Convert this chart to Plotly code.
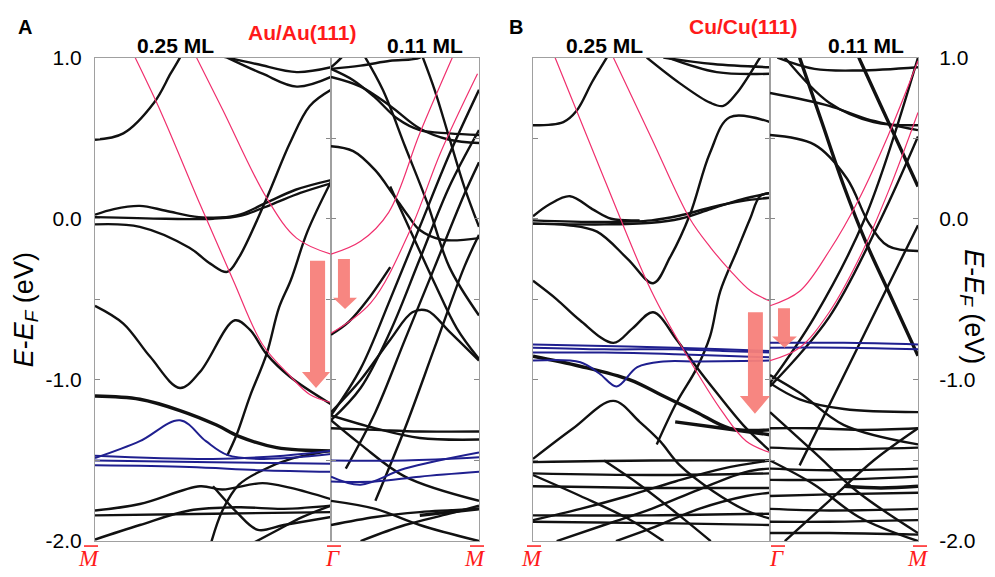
import plotly.graph_objects as go

W, H = 995, 577

# ---------------- data ----------------
# k = fractional position along each sub-panel path (left panels: M->Gamma, right panels: Gamma->M)
# E = E - E_F in eV

# ===== Panel A, Au/Au(111), 0.25 ML =====
AL_red = [
    ([0.17, 0.28, 0.445, 0.585, 0.71, 0.83, 0.91, 1.0], [1.0, 0.66, 0.09, -0.38, -0.78, -0.98, -1.09, -1.14]),
    ([0.43, 0.54, 0.727, 0.854, 1.0], [1.0, 0.68, 0.13, -0.12, -0.22]),
]
AL_black = [
    ([0, 0.12, 0.25, 0.32, 0.36, 0.40], [0.49, 0.53, 0.72, 0.9, 1.0, 1.12]),
    ([0.50, 0.685, 0.855, 1.0], [1.02, 0.96, 0.91, 0.94]),
    ([0.56, 0.71, 0.855, 1.0], [1.0, 0.9, 0.82, 0.88]),
    ([0, 0.19, 0.40, 0.49, 0.56, 0.61, 0.727, 0.826, 0.91, 1.0], [-0.035, -0.05, -0.18, -0.28, -0.33, -0.24, 0.126, 0.47, 0.7, 0.8]),
    ([0, 0.08, 0.19, 0.30, 0.44, 0.6, 0.727, 0.85, 1.0], [0.025, 0.06, 0.08, 0.05, 0.01, 0.02, 0.1, 0.18, 0.24]),
    ([0, 0.3, 0.5, 0.62, 0.75, 0.87, 1.0], [0.01, 0.0, 0.0, 0.02, 0.09, 0.16, 0.22]),
    ([0.56, 0.60, 0.657, 0.727, 0.78, 0.83, 0.9, 1.0], [-1.47, -1.34, -1.1, -0.84, -0.55, -0.38, -0.08, 0.23]),
    ([0, 0.12, 0.233, 0.36, 0.445, 0.593, 0.657, 0.727, 0.826, 1.0], [-0.54, -0.65, -0.855, -1.05, -0.95, -0.63, -0.69, -0.84, -0.98, -1.15]),
    ([0, 0.19, 0.445, 0.54, 0.71, 0.83, 1.0], [-1.81, -1.77, -1.66, -1.68, -1.64, -1.67, -1.74]),
    ([0, 0.5, 1.0], [-1.84, -1.83, -1.82]),
    ([0, 0.19, 0.40, 0.61, 0.8, 1.0], [-1.99, -1.9, -1.81, -1.79, -1.8, -1.78]),
    ([0.49, 0.54, 0.61, 0.71, 0.83, 1.0], [-2.02, -1.81, -1.65, -1.56, -1.49, -1.44]),
    ([0.5, 0.6, 0.69, 0.8, 1.0], [-1.66, -1.82, -1.93, -1.9, -1.85]),
    ([0.62, 0.75, 0.88, 1.0], [-2.05, -1.95, -1.85, -1.78]),
]
AL_thick = [
    ([0, 0.19, 0.36, 0.515, 0.61, 0.77, 1.0], [-1.1, -1.12, -1.19, -1.28, -1.35, -1.42, -1.44]),
]
AL_blue = [
    ([0, 0.19, 0.36, 0.47, 0.56, 0.7, 1.0], [-1.485, -1.38, -1.25, -1.38, -1.465, -1.49, -1.46]),
    ([0, 0.5, 0.8, 1.0], [-1.47, -1.49, -1.47, -1.44]),
    ([0, 0.5, 1.0], [-1.50, -1.51, -1.52]),
    ([0, 0.4, 0.7, 1.0], [-1.53, -1.54, -1.56, -1.57]),
]

# ===== Panel A, 0.11 ML =====
AR_red = [
    ([0, 0.2, 0.39, 0.6, 0.82], [-0.22, -0.14, 0.04, 0.53, 1.0]),
    ([0, 0.27, 0.54, 0.74, 0.99], [-0.71, -0.52, -0.06, 0.41, 0.9]),
]
AR_black = [
    ([0, 0.07, 0.15], [0.94, 1.0, 1.1]),
    ([0, 0.2, 0.4, 0.6, 0.66], [0.93, 0.95, 0.98, 1.0, 1.05]),
    ([0, 0.15, 0.3, 0.45, 0.6, 0.8, 1.0], [0.93, 0.86, 0.75, 0.62, 0.55, 0.53, 0.52]),
    ([0, 0.2, 0.4, 0.6, 0.8, 1.0], [0.88, 0.82, 0.70, 0.56, 0.49, 0.47]),
    ([0.6, 0.7, 0.8, 0.9, 1.0], [1.05, 0.8, 0.5, 0.2, -0.05]),
    ([0.2, 0.35, 0.5, 0.65, 0.8, 1.0], [1.05, 0.8, 0.45, 0.1, -0.3, -0.6]),
    ([0, 0.15, 0.3, 0.42, 0.52, 0.6, 0.75, 1.0], [0.45, 0.42, 0.3, 0.15, 0.02, -0.07, -0.13, -0.12]),
    ([0.4, 0.55, 0.7, 0.85, 1.0], [0.2, -0.1, -0.4, -0.68, -0.87]),
    ([0, 0.12, 0.25, 0.4], [-0.72, -0.64, -0.5, -0.3]),
    ([0, 0.2, 0.4, 0.55, 0.65, 0.8, 1.0], [-1.2, -1.0, -0.75, -0.58, -0.57, -0.7, -0.88]),
    ([0, 0.2, 0.4, 0.6, 0.8, 1.0], [-1.22, -0.93, -0.5, -0.05, 0.4, 0.8]),
    ([0, 0.2, 0.4, 0.6, 0.8, 1.0], [-1.25, -1.05, -0.7, -0.25, 0.2, 0.55]),
    ([0.1, 0.3, 0.5, 0.7, 0.9, 1.0], [-1.55, -1.2, -0.75, -0.3, 0.15, 0.35]),
    ([0.3, 0.5, 0.7, 0.9, 1.0], [-1.75, -1.3, -0.8, -0.3, -0.1]),
    ([0, 0.3, 0.6, 1.0], [-1.3, -1.31, -1.32, -1.32]),
    ([0, 0.3, 0.6, 1.0], [-1.22, -1.3, -1.36, -1.37]),
    ([0, 0.2, 0.5, 1.0], [-1.25, -1.4, -1.6, -1.75]),
    ([0, 0.3, 0.6, 1.0], [-1.9, -1.85, -1.82, -1.8]),
    ([0.2, 0.5, 0.8, 1.0], [-2.0, -1.9, -1.83, -1.78]),
    ([0, 0.3, 0.6, 1.0], [-1.75, -1.8, -1.9, -2.0]),
]
AR_thick = [
    ([0.6, 0.8, 1.0], [-1.84, -1.82, -1.8]),
]
AR_blue = [
    ([0, 0.5, 1.0], [-1.5, -1.5, -1.48]),
    ([0, 0.3, 0.6, 1.0], [-1.63, -1.63, -1.6, -1.57]),
    ([0, 0.2, 0.5, 1.0], [-1.6, -1.65, -1.55, -1.45]),
]

# ===== Panel B, Cu/Cu(111), 0.25 ML =====
BL_red = [
    ([0.093, 0.3, 0.5, 0.65, 0.8, 0.9, 1.0], [1.0, 0.25, -0.45, -0.85, -1.2, -1.38, -1.45]),
    ([0.339, 0.5, 0.662, 0.75, 0.831, 0.92, 1.0], [1.0, 0.5, 0.0, -0.18, -0.32, -0.45, -0.51]),
]
BL_black = [
    ([0, 0.128, 0.184, 0.25, 0.311, 0.35], [0.58, 0.6, 0.67, 0.85, 1.0, 1.1]),
    ([0.48, 0.62, 0.747, 0.803, 0.86, 0.958, 1.0], [1.0, 0.84, 0.72, 0.70, 0.78, 1.0, 1.1]),
    ([0.55, 0.76, 1.0], [1.0, 0.96, 0.94]),
    ([0.57, 0.775, 1.0], [1.0, 0.91, 0.90]),
    ([0, 0.15, 0.27, 0.4, 0.507, 0.578, 0.662, 0.747, 0.83, 1.0], [-0.03, -0.04, -0.08, -0.25, -0.40, -0.24, 0.025, 0.41, 0.63, 0.60]),
    ([0, 0.07, 0.156, 0.25, 0.33, 0.45], [0.015, 0.09, 0.14, 0.06, 0.0, -0.01]),
    ([0, 0.3, 0.5, 0.62, 0.75, 0.88, 1.0], [-0.01, -0.02, -0.01, 0.02, 0.07, 0.11, 0.13]),
    ([0, 0.3, 0.5, 0.62, 0.75, 0.88, 1.0], [-0.03, -0.035, -0.025, 0.0, 0.06, 0.12, 0.16]),
    ([0.522, 0.606, 0.69, 0.747, 0.79, 0.86, 0.916, 0.958, 1.0], [-1.40, -1.14, -0.93, -0.73, -0.45, -0.2, 0.0, 0.14, 0.16]),
    ([0, 0.1, 0.198, 0.339, 0.42, 0.507, 0.606, 0.69, 0.775, 0.887, 1.0], [-0.385, -0.5, -0.63, -0.77, -0.68, -0.58, -0.75, -0.92, -1.08, -1.28, -1.44]),
    ([0, 0.17, 0.339, 0.45, 0.536, 0.62, 0.76, 0.90, 1.0], [-1.49, -1.3, -1.13, -1.26, -1.38, -1.53, -1.69, -1.81, -1.86]),
    ([0, 0.5, 1.0], [-1.51, -1.50, -1.50]),
    ([0, 0.5, 1.0], [-1.58, -1.59, -1.58]),
    ([0, 0.5, 1.0], [-1.66, -1.67, -1.67]),
    ([0, 0.5, 1.0], [-1.84, -1.84, -1.83]),
    ([0, 0.6, 1.0], [-1.88, -1.89, -1.9]),
    ([0, 0.2, 0.4, 0.6, 0.8, 1.0], [-1.87, -1.8, -1.72, -1.63, -1.55, -1.5]),
    ([0.1, 0.3, 0.5, 0.7, 0.9, 1.0], [-2.0, -1.9, -1.8, -1.68, -1.57, -1.55]),
    ([0.35, 0.5, 0.7, 0.9, 1.0], [-2.0, -1.92, -1.8, -1.72, -1.7]),
    ([0, 0.2, 0.4, 0.55], [-1.59, -1.72, -1.86, -2.0]),
    ([0.3, 0.45, 0.6, 0.75], [-1.5, -1.65, -1.82, -2.0]),
]
BL_thick = [
    ([0, 0.198, 0.409, 0.55, 0.69, 0.83, 1.0], [-0.853, -0.915, -1.0, -1.1, -1.2, -1.30, -1.31]),
    ([0.6, 0.8, 1.0], [-1.26, -1.3, -1.34]),
]
BL_blue = [
    ([0, 0.3, 0.6, 0.8, 1.0], [-0.78, -0.79, -0.80, -0.81, -0.82]),
    ([0, 0.3, 0.6, 0.8, 1.0], [-0.80, -0.81, -0.81, -0.82, -0.83]),
    ([0, 0.3, 0.6, 0.8, 1.0], [-0.83, -0.83, -0.84, -0.85, -0.86]),
    ([0, 0.2, 0.28, 0.353, 0.44, 0.55, 0.7, 1.0], [-0.88, -0.89, -0.96, -1.04, -0.92, -0.885, -0.885, -0.88]),
]

# ===== Panel B, 0.11 ML =====
BR_red = [
    ([0, 0.2, 0.4, 0.6, 0.8, 1.0], [-0.54, -0.45, -0.2, 0.12, 0.52, 0.98]),
    ([0, 0.2, 0.4, 0.6, 0.8, 1.0], [-0.88, -0.8, -0.58, -0.25, 0.17, 0.66]),
]
BR_black = [
    ([0, 0.4, 0.65, 1.0], [0.78, 0.70, 0.62, 0.55]),
    ([0.05, 0.3, 0.6, 1.0], [1.0, 0.93, 0.92, 0.94]),
    ([0.1, 0.4, 0.7, 1.0], [1.0, 0.72, 0.60, 0.58]),
    ([0, 0.3, 0.52, 0.67, 0.8, 1.0], [0.52, 0.46, 0.25, -0.03, -0.17, -0.2]),
    ([0, 0.3, 0.64, 1.0], [-1.02, -0.61, 0.0, 1.0]),
    ([0, 0.4, 0.75, 1.0], [-1.04, -0.61, 0.0, 0.51]),
    ([0.2, 0.64, 1.0], [-1.53, -0.71, -0.04]),
    ([0, 0.2, 0.5, 1.0], [-1.02, -1.12, -1.18, -1.2]),
    ([0, 0.2, 0.5, 1.0], [-0.97, -1.08, -1.28, -1.4]),
    ([0, 0.3, 0.6, 1.0], [-1.3, -1.3, -1.31, -1.3]),
    ([0, 0.4, 1.0], [-1.42, -1.43, -1.42]),
    ([0, 0.4, 1.0], [-1.55, -1.56, -1.55]),
    ([0, 0.4, 1.0], [-1.62, -1.62, -1.6]),
    ([0, 0.4, 1.0], [-1.72, -1.71, -1.7]),
    ([0, 0.4, 1.0], [-1.8, -1.81, -1.8]),
    ([0, 0.4, 1.0], [-1.88, -1.88, -1.87]),
    ([0, 0.4, 1.0], [-1.95, -1.95, -1.96]),
    ([0, 0.3, 0.6, 1.0], [-1.2, -1.45, -1.7, -1.95]),
    ([0.1, 0.4, 0.7, 1.0], [-2.0, -1.75, -1.5, -1.3]),
    ([0, 0.3, 0.6, 1.0], [-1.5, -1.65, -1.85, -2.0]),
]
BR_thick = [
    ([0.2, 0.35, 0.5, 0.65, 0.8, 1.0], [1.0, 0.6, 0.2, -0.15, -0.45, -0.85]),
    ([0.6, 0.75, 0.9, 1.0], [1.0, 0.7, 0.4, 0.2]),
    ([0.5, 0.75, 1.0], [-1.66, -1.67, -1.66]),
]
BR_blue = [
    ([0, 0.5, 1.0], [-0.77, -0.77, -0.78]),
    ([0, 0.5, 1.0], [-0.80, -0.80, -0.81]),
]

Y_TICKS = [-2, -1, 0, 1]
Y_TICKTEXT = ['-2.0', '-1.0', '0.0', '1.0']
Y_MINOR = [-1.5, -0.5, 0.5]

# ---------------- figure ----------------
fig = go.Figure()

# screen-y (px) -> paper fraction; compensates the viewer's small vertical squeeze
def py(ypix):
    return 1 - ((ypix - 7.8) / 0.973) / H

xs = {'AL': (95, 331), 'AR': (331, 479), 'BL': (533, 770), 'BR': (770, 918)}
y_top, y_bot = 54, 544
ax = {'AL': ('x', 'y'), 'AR': ('x2', 'y2'), 'BL': ('x3', 'y3'), 'BR': ('x4', 'y4')}
data = {
    'AL': (AL_black, AL_thick, AL_blue, AL_red),
    'AR': (AR_black, AR_thick, AR_blue, AR_red),
    'BL': (BL_black, BL_thick, BL_blue, BL_red),
    'BR': (BR_black, BR_thick, BR_blue, BR_red),
}
styles = [('#111111', 2.4), ('#111111', 3.4), ('#1f1f8f', 2.0), ('#f0306e', 1.2)]

for p, groups in data.items():
    xa, ya = ax[p]
    for grp, (col, wid) in zip(groups, styles):
        for k, e in grp:
            fig.add_trace(go.Scatter(
                x=k, y=e, mode='lines', xaxis=xa, yaxis=ya,
                line=dict(color=col, width=wid, shape='spline', smoothing=1.0),
                hoverinfo='skip', showlegend=False))

frame = '#a0a0a0'
ydom = [py(y_bot), py(y_top)]
layout = dict(width=W, height=H, margin=dict(l=0, r=0, t=0, b=0),
              paper_bgcolor='white', plot_bgcolor='white', showlegend=False)
for p, (xa, ya) in ax.items():
    xn = 'xaxis' + xa[1:]
    yn = 'yaxis' + ya[1:]
    x0, x1 = xs[p]
    layout[xn] = dict(domain=[x0 / W, x1 / W], range=[0, 1], anchor=ya,
                      showline=True, mirror=True, linecolor=frame, linewidth=1,
                      showgrid=False, zeroline=False, ticks='', showticklabels=False,
                      fixedrange=True)
    show_lab = p in ('AL', 'BR')
    layout[yn] = dict(domain=ydom, range=[-2, 1], anchor=xa,
                      side='right' if p == 'BR' else 'left',
                      showline=True, mirror='ticks', linecolor=frame, linewidth=1,
                      showgrid=False, zeroline=False,
                      ticks='inside', ticklen=5, tickcolor='#888888',
                      tickvals=Y_TICKS, ticktext=Y_TICKTEXT,
                      minor=dict(ticks='inside', ticklen=5, tickcolor='#888888', tickvals=Y_MINOR),
                      showticklabels=show_lab,
                      ticklabelstandoff=(16 if p == 'BR' else 8),
                      tickfont=dict(family='Liberation Sans, Arial', size=21, color='black'),
                      fixedrange=True)
fig.update_layout(**layout)

# arrows (k0, k1 shaft; kh0, kh1 head; E_top, E_head, E_tip)
ARROWS = [
    ('x', 'y', 0.911, 0.975, 0.877, 0.996, -0.26, -0.95, -1.05),
    ('x2', 'y2', 0.047, 0.128, 0.014, 0.176, -0.25, -0.49, -0.56),
    ('x3', 'y3', 0.907, 0.970, 0.873, 1.0, -0.58, -1.10, -1.21),
    ('x4', 'y4', 0.054, 0.135, 0.014, 0.182, -0.555, -0.73, -0.80),
]
for xa, ya, k0, k1, h0, h1, et, eh, ep in ARROWS:
    kc = (h0 + h1) / 2
    path = (f'M {k0},{et} L {k1},{et} L {k1},{eh} L {h1},{eh} L {kc},{ep} '
            f'L {h0},{eh} L {k0},{eh} Z')
    fig.add_shape(type='path', path=path, xref=xa, yref=ya,
                  fillcolor='#f7807a', line=dict(width=0), opacity=0.95, layer='above')

def ann(x, y, text, size, color='black', family='Liberation Sans, Arial', angle=0):
    fig.add_annotation(x=x / W, y=py(y), xref='paper', yref='paper', text=text,
                       showarrow=False, textangle=angle, xanchor='center', yanchor='middle',
                       font=dict(family=family, size=size, color=color))

ann(25, 23, '<b>A</b>', 20)
ann(516, 23, '<b>B</b>', 20)
ann(302, 29, '<b>Au/Au(111)</b>', 21, '#ff1a1a')
ann(743, 22, '<b>Cu/Cu(111)</b>', 21, '#ff1a1a')
ann(175, 42, '<b>0.25 ML</b>', 21)
ann(425, 42, '<b>0.11 ML</b>', 21)
ann(604, 42, '<b>0.25 ML</b>', 21)
ann(866, 42, '<b>0.11 ML</b>', 21)
ann(26, 310, '<i>E</i>-<i>E</i><sub><i>F</i></sub> (eV)', 27, angle=-90)
ann(972, 306, '<i>E</i>-<i>E</i><sub><i>F</i></sub> (eV)', 27, angle=90)

K_LABELS = [(89, 'M'), (332, 'Γ'), (475, 'M'), (532, 'M'), (776, 'Γ'), (918, 'M')]
for xpix, lab in K_LABELS:
    ann(xpix, 562, f'<i>{lab}</i>', 23, '#ff1a1a', 'Liberation Serif, Times New Roman')
    fig.add_shape(type='line', xref='paper', yref='paper',
                  x0=(xpix - 5) / W, x1=(xpix + 9) / W, y0=py(549), y1=py(549),
                  line=dict(color='#ff1a1a', width=1.5))

fig.write_html('out.html')
